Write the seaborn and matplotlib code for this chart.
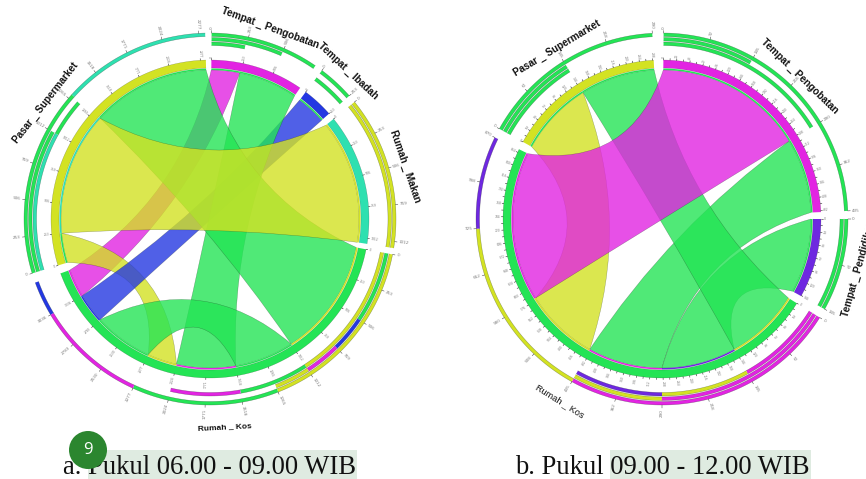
import numpy as np
import seaborn as sns
import matplotlib
matplotlib.use("Agg")
import matplotlib.pyplot as plt
from matplotlib.path import Path
from matplotlib.patches import PathPatch, Circle, Rectangle

# ---------- colours ----------
KOS, PENG, PASAR, BLUE, TEAL, PURPLE = sns.color_palette(
    ["#24e455", "#e224e2", "#d3e223", "#2438e2", "#2ee0b0", "#6e28e0"])

# ---------- panel a : 06.00 - 09.00 ----------
a_sectors = ["Tempat_Pengobatan", "Tempat_Ibadah", "Rumah_Makan", "Rumah_Kos", "Pasar_Supermarket"]
a_colors = [PENG, BLUE, TEAL, KOS, PASAR]
a_src = [0, 3, 1, 4, 4, 3, 3]
a_dst = [3, 0, 3, 2, 3, 4, 3]
a_val = [11, 23, 11.5, 48, 11.5, 46, 23]
a_order = [[0, 1], [2], [3], [5, 6, 1, 4, 6, 2, 0], [4, 3, 5]]
a_gaps = [2.5, 2.5, 2, 3, 2]
a_draw = [0, 4, 2, 1, 5, 6, 3]
a_lanes = [
    {0: [(11, KOS)], 1: [(23, KOS)], 2: [(34, KOS)]},
    {0: [(11.5, KOS)], 2: [(11.5, KOS)]},
    {1: [(48, PASAR)], 2: [(48, PASAR)]},
    {0: [(46, PASAR), (23, KOS), (23, PENG)],
     1: [(23, KOS), (11.5, BLUE), (11.5, PENG), (11.5, PASAR)],
     2: [(57.5, PASAR), (46, KOS), (34.5, PENG), (11, BLUE)]},
    {0: [(46, TEAL), (12.5, KOS)], 1: [(46, KOS)], 2: [(59, KOS), (46.5, TEAL)]},
]

# ---------- panel b : 09.00 - 12.00 ----------
b_sectors = ["Tempat_Pengobatan", "Tempat_Pendidikan", "Rumah_Kos", "Pasar_Supermarket"]
b_colors = [PENG, PURPLE, KOS, PASAR]
b_src = [0, 2, 2, 3, 2]
b_dst = [2, 0, 1, 2, 3]
b_val = [58, 29, 29, 29, 29]
b_order = [[0, 1], [2], [4, 2, 1, 3, 0], [3, 4]]
b_gaps = [2.5, 3, 3, 3.5]
b_draw = [1, 2, 4, 3, 0]
b_lanes = [
    {0: [(58, KOS)], 1: [(29, KOS)], 2: [(87, KOS)]},
    {1: [(29, KOS)], 2: [(29, KOS)]},
    {0: [(29, PENG), (29, PASAR), (29, PURPLE)],
     1: [(58, PENG), (29, PASAR)],
     2: [(87, PENG), (58, PASAR), (29, PURPLE)]},
    {0: [(29, KOS)], 1: [(29, KOS)], 2: [(58, KOS)]},
]

a_labels = ["Tempat _ Pengobatan", "Tempat _ Ibadah", "Rumah _ Makan", "Rumah _ Kos", "Pasar _ Supermarket"]
a_label_pos = [(270, 28, -20), (348, 71, -43), (405, 166, -71), (225, 427, 3), (46, 103, 52)]
b_labels = ["Tempat _ Pengobatan", "Tempat _ Pendidikan", "Rumah _ Kos", "Pasar _ Supermarket"]
b_label_pos = [(800, 76, -44), (859, 269, 74), (560, 401, -32), (557, 48, 31)]

sns.set_theme(style="white", rc={"axes.facecolor": "none", "figure.facecolor": "white"})
W, H = 866, 479
fig = plt.figure(figsize=(W / 100, H / 100), dpi=100)

RIB, STRIP, RING_IN, RING_OUT = 149.0, 150.5, 151.0, 159.0
LANE = [(173.5, 177.0), (178.0, 181.5), (182.5, 186.0)]
EDGE = (0.05, 0.1, 0.05, 0.4)


def pt(r, deg):
    t = np.radians(deg)
    return r * np.sin(t), -r * np.cos(t)


def arc(r, d0, d1):
    n = max(3, int(abs(d1 - d0)) + 2)
    return [pt(r, d) for d in np.linspace(d0, d1, n)]


def band(ax, r0, r1, d0, d1, color, lw=0.3, z=3):
    v = arc(r1, d0, d1) + arc(r0, d1, d0)
    ax.fill([p[0] for p in v], [p[1] for p in v], color=color, lw=0, zorder=z)
    if lw:
        for r in (r0, r1):
            q = arc(r, d0, d1)
            ax.plot([p[0] for p in q], [p[1] for p in q], color=EDGE, lw=lw, zorder=z + 0.1)


def ctrl(d0, d1):
    diff = (d1 - d0 + 180) % 360 - 180
    rad = max(0.0, 95 - 0.55 * abs(diff))
    return pt(rad, d0 + diff / 2)


def ribbon(ax, e0, e1, color, z):
    if e0[0] > e1[0]:
        e0, e1 = e1, e0
    v = arc(RIB, e0[0], e0[1])
    codes = [Path.MOVETO] + [Path.LINETO] * (len(v) - 1)
    v += [ctrl(e0[1], e1[0]), pt(RIB, e1[0])]
    codes += [Path.CURVE3, Path.CURVE3]
    q = arc(RIB, e1[0], e1[1])[1:]
    v += q
    codes += [Path.LINETO] * len(q)
    v += [ctrl(e1[1], e0[0]), pt(RIB, e0[0])]
    codes += [Path.CURVE3, Path.CURVE3]
    ax.add_patch(PathPatch(Path(v, codes), facecolor=(*color, 0.8), edgecolor=EDGE, lw=0.3, zorder=z))


def tick_text(ax, r, deg, s, size, col="#7a7a7a"):
    x, y = pt(r, deg)
    a = deg % 360
    if a < 180:
        rot, ha = 90 - a, "left"
    else:
        rot, ha = 270 - a, "right"
    ax.text(x, y, s, fontsize=size, color=col, rotation=rot, ha=ha, va="center",
            rotation_mode="anchor", clip_on=False, zorder=5)


def chord(x0, cx, cy, sectors, colors, src, dst, val, order, gaps, lanes, draw,
          start, out_step, in_step, in_label_every, per_deg):
    ax = fig.add_axes([x0 / W, 0, 433 / W, 1])
    ax.set_xlim(x0 - cx, x0 + 433 - cx)
    ax.set_ylim(H - cy, -cy)
    ax.axis("off")
    sns.despine(ax=ax, left=True, bottom=True)

    ends = {i: [] for i in range(len(val))}
    spans = []
    pos = start
    for s, flows in enumerate(order):
        s0 = pos
        for f in flows:
            ends[f].append((pos, pos + val[f], s))
            pos += val[f]
        spans.append((s0, pos))
        pos += gaps[s]

    for s, (d0, d1) in enumerate(spans):
        band(ax, RING_IN, RING_OUT, d0, d1, colors[s], lw=0.25)
        for lane, parts in lanes[s].items():
            p = d0
            for w, c in parts:
                band(ax, LANE[lane][0], LANE[lane][1], p, p + w, c, lw=0.35)
                p += w
        # axis ticks
        for k, d in enumerate(np.arange(d0, d1 + 0.01, out_step)):
            a, b = pt(186, d), pt(188.5, d)
            ax.plot([a[0], b[0]], [a[1], b[1]], color="#333333", lw=0.35, zorder=4)
            tick_text(ax, 190, d, f"{(d - d0) * per_deg:.0f}", 3.0)
        for k, d in enumerate(np.arange(d0, d1 + 0.01, in_step)):
            a, b = pt(159, d), pt(160.7, d)
            ax.plot([a[0], b[0]], [a[1], b[1]], color="#222222", lw=0.4, zorder=4)
            if k % in_label_every == 0:
                tick_text(ax, 161.5, d, f"{(d - d0) * per_deg:.0f}", 2.2)

    for z, f in enumerate(draw):
        e0, e1 = ends[f]
        ribbon(ax, e0[:2], e1[:2], colors[src[f]], 2 + z * 0.01)
    for f in range(len(val)):
        e0, e1 = ends[f]
        band(ax, RIB, STRIP, e0[0], e0[1], colors[e1[2]], lw=0)
        band(ax, RIB, STRIP, e1[0], e1[1], colors[e0[2]], lw=0)
    return ax


ax_a = chord(0, 210, 219, a_sectors, a_colors, a_src, a_dst, a_val, a_order, a_gaps, a_lanes, a_draw,
             0.5, 11.5, 11.5, 1, 22)
ax_b = chord(433, 662, 219, b_sectors, b_colors, b_src, b_dst, b_val, b_order, b_gaps, b_lanes, b_draw,
             0.5, 14.5, 2.4, 2, 5)

# overlay in pixel coordinates for texts
ov = fig.add_axes([0, 0, 1, 1], facecolor="none")
ov.set_xlim(0, W)
ov.set_ylim(H, 0)
ov.axis("off")

for (lab, (x, y, r), fs) in list(zip(a_labels, a_label_pos, [7.2, 7.2, 7.2, 6.0, 7.2])) + \
        list(zip(b_labels, b_label_pos, [7.2, 7.2, 6.6, 7.2])):
    ov.text(x, y, lab, rotation=r, fontsize=fs, family="Liberation Sans", ha="center", va="center",
            rotation_mode="anchor", color="#111111", fontweight="bold" if fs != 6.6 else "normal")

ov.add_patch(Rectangle((88, 450), 269, 29, facecolor="#dfebe1", edgecolor="none", zorder=1))
ov.add_patch(Rectangle((610, 450), 201, 29, facecolor="#dfebe1", edgecolor="none", zorder=1))
ov.text(63, 474.5, "a. Pukul 06.00 - 09.00 WIB", family="Liberation Serif", fontsize=19.2,
        color="#111111", va="baseline", ha="left", zorder=2)
ov.text(515, 474.5, "b. Pukul 09.00 - 12.00 WIB", family="Liberation Serif", fontsize=19.2,
        color="#111111", va="baseline", ha="left", zorder=2)
ov.add_patch(Circle((88, 450), 19, facecolor="#2b862f", edgecolor="none", zorder=3))
ov.text(88, 450, "9", color="white", fontsize=12, family="Open Sans", ha="center", va="center", zorder=4)

fig.savefig("out.png", dpi=100)
